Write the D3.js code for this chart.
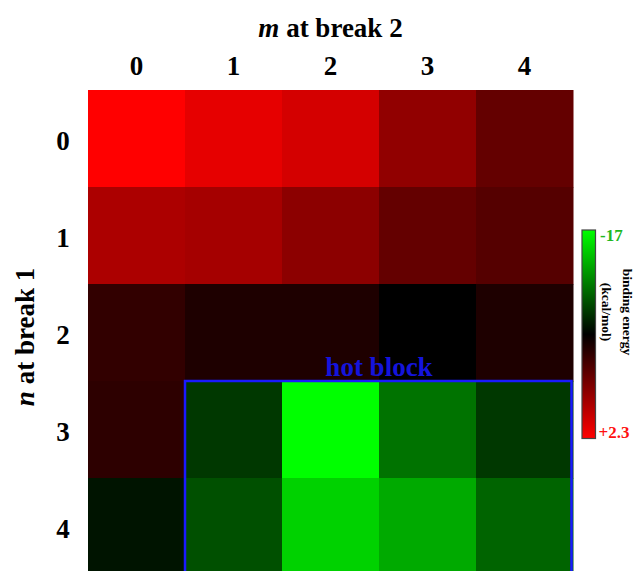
<!DOCTYPE html>
<html>
<head>
<meta charset="utf-8">
<script src="https://cdn.jsdelivr.net/npm/d3@7"></script>
<style>
  body { margin: 0; background: #fff; }
  svg text { font-family: "Liberation Serif", "Times New Roman", serif; font-weight: bold; }
</style>
</head>
<body>
<svg id="chart"></svg>
<script>
const width = 633;
const height = 571;

// m at break 2 (columns) and n at break 1 (rows)
const mValues = [0, 1, 2, 3, 4];
const nValues = [0, 1, 2, 3, 4];

// binding energy (kcal/mol), one array per row n
const row0 = [2.30, 1.35, 0.67, -1.86, -3.57];
const row1 = [-0.84, -1.11, -2.05, -3.57, -4.13];
const row2 = [-5.46, -6.21, -6.21, -7.35, -6.21];
const row3 = [-5.65, -9.47, -17.0, -11.70, -9.47];
const row4 = [-8.11, -10.38, -15.30, -13.78, -11.13];
const energies = [row0, row1, row2, row3, row4];

const energyMin = -17;
const energyMax = 2.3;
const legendLabels = ["-17", "+2.3"];

// hot block: n = 3..4, m = 1..4
const hotRows = [3, 4];
const hotCols = [1, 4];

const svg = d3.select("#chart")
    .attr("width", width)
    .attr("height", height);

const x = d3.scaleBand().domain(mValues).range([88, 573]);
const y = d3.scaleBand().domain(nValues).range([90, 575]);

// green -> black -> red
const color = d3.scaleLinear()
    .domain([energyMin, (energyMin + energyMax) / 2, energyMax])
    .range(["#00ff00", "#000000", "#ff0000"])
    .interpolate(d3.interpolateRgb);

// cells
const cells = [];
energies.forEach((row, n) => row.forEach((v, m) => cells.push({ n, m, v })));

svg.append("g").selectAll("rect")
    .data(cells)
    .enter().append("rect")
    .attr("x", d => x(d.m))
    .attr("y", d => y(d.n))
    .attr("width", x.bandwidth() + 0.5)
    .attr("height", y.bandwidth() + 0.5)
    .attr("fill", d => color(d.v));

// column labels
svg.append("g").selectAll("text")
    .data(mValues)
    .enter().append("text")
    .attr("x", d => x(d) + x.bandwidth() / 2)
    .attr("y", 75)
    .attr("text-anchor", "middle")
    .attr("font-size", 27)
    .text(d => d);

// row labels
svg.append("g").selectAll("text")
    .data(nValues)
    .enter().append("text")
    .attr("x", 63)
    .attr("y", d => y(d) + y.bandwidth() / 2 + 11.5)
    .attr("text-anchor", "middle")
    .attr("font-size", 27)
    .text(d => d);

// axis titles
const topTitle = svg.append("text")
    .attr("x", 330.5)
    .attr("y", 37)
    .attr("text-anchor", "middle")
    .attr("font-size", 27);
topTitle.append("tspan").attr("font-style", "italic").text("m");
topTitle.append("tspan").text(" at break 2");

const leftTitle = svg.append("text")
    .attr("transform", "translate(34,337) rotate(-90)")
    .attr("text-anchor", "middle")
    .attr("font-size", 27);
leftTitle.append("tspan").attr("font-style", "italic").text("n");
leftTitle.append("tspan").text(" at break 1");

// hot block outline
const hx0 = x(hotCols[0]);
const hx1 = x(hotCols[1]) + x.bandwidth();
const hy0 = y(hotRows[0]);
const hy1 = y(hotRows[1]) + y.bandwidth();
svg.append("rect")
    .attr("x", hx0)
    .attr("y", hy0)
    .attr("width", hx1 - hx0 - 1.5)
    .attr("height", hy1 - hy0 - 1.5)
    .attr("fill", "none")
    .attr("stroke", "#1a1aff")
    .attr("stroke-width", 2.5);

svg.append("text")
    .attr("x", 379)
    .attr("y", hy0 - 5)
    .attr("text-anchor", "middle")
    .attr("font-size", 27)
    .attr("fill", "#1414dc")
    .text("hot block");

// legend color bar
const defs = svg.append("defs");
const grad = defs.append("linearGradient")
    .attr("id", "legendGrad")
    .attr("x1", 0).attr("y1", 0).attr("x2", 0).attr("y2", 1);
const stops = d3.range(0, 1.0001, 0.1);
grad.selectAll("stop")
    .data(stops)
    .enter().append("stop")
    .attr("offset", d => d)
    .attr("stop-color", d => color(energyMin + d * (energyMax - energyMin)));

const legendY = d3.scaleLinear().domain([energyMin, energyMax]).range([230, 438.5]);

svg.append("rect")
    .attr("x", 582)
    .attr("y", legendY(energyMin))
    .attr("width", 13.5)
    .attr("height", legendY(energyMax) - legendY(energyMin))
    .attr("fill", "url(#legendGrad)")
    .attr("stroke", "#444")
    .attr("stroke-width", 1.2);

svg.append("text")
    .attr("x", 600)
    .attr("y", 241)
    .attr("font-size", 17)
    .attr("fill", "#1fb81f")
    .text(legendLabels[0]);

svg.append("text")
    .attr("x", 598.5)
    .attr("y", 437.5)
    .attr("font-size", 17)
    .attr("fill", "#ff1010")
    .text(legendLabels[1]);

svg.append("text")
    .attr("transform", "translate(622.5,312) rotate(90)")
    .attr("text-anchor", "middle")
    .attr("font-size", 13.5)
    .text("binding energy");

svg.append("text")
    .attr("transform", "translate(601.5,312) rotate(90)")
    .attr("text-anchor", "middle")
    .attr("font-size", 13.5)
    .text("(kcal/mol)");
</script>
</body>
</html>
